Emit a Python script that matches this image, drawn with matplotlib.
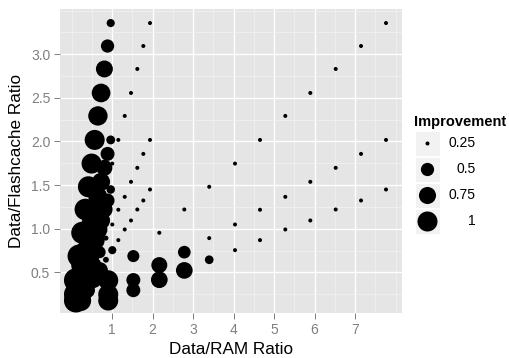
import numpy as np
import matplotlib.pyplot as plt
from matplotlib.patches import Rectangle

plt.rcParams['font.family'] = ['Liberation Sans', 'DejaVu Sans']

# Data/RAM ratio for each RAM size (smallest data set first)
ram_small_x = [0.907, 1.527, 2.168, 2.785, 3.400, 4.037, 4.654, 5.279, 5.896, 6.523, 7.148, 7.765]
ram_mid_x = [0.225, 0.382, 0.540, 0.694, 0.850, 1.007, 1.156, 1.314, 1.469, 1.625, 1.773, 1.938]
ram_big_x = [0.110, 0.187, 0.265, 0.342, 0.418, 0.495, 0.572, 0.652, 0.730, 0.812, 0.890, 0.968]

# Data/Flashcache ratio for each flash size
flash_small_y = [0.410, 0.687, 0.954, 1.221, 1.481, 1.747, 2.018, 2.293, 2.556, 2.831, 3.094, 3.357]
flash_mid_y = [0.248, 0.413, 0.584, 0.732, 0.893, 1.049, 1.218, 1.366, 1.538, 1.698, 1.858, 2.018]
flash_big_y = [0.178, 0.296, 0.416, 0.523, 0.645, 0.755, 0.870, 0.992, 1.095, 1.221, 1.324, 1.450]

# improvement, one list per (ram, flash) pair
imp_rs_fs = [1.00, 0.44, 0.25, 0.25, 0.25, 0.25, 0.25, 0.25, 0.25, 0.25, 0.25, 0.25]
imp_rs_fm = [1.00, 0.54, 0.67, 0.47, 0.25, 0.25, 0.25, 0.25, 0.25, 0.25, 0.25, 0.25]
imp_rs_fb = [1.00, 0.54, 0.72, 0.72, 0.315, 0.25, 0.25, 0.25, 0.25, 0.25, 0.25, 0.25]
imp_rm_fs = [1.10, 0.44, 0.252, 0.25, 0.25, 0.25, 0.25, 0.25, 0.25, 0.25, 0.25, 0.25]
imp_rm_fm = [1.10, 0.67, 0.67, 0.44, 0.253, 0.25, 0.25, 0.25, 0.25, 0.25, 0.25, 0.25]
imp_rm_fb = [1.10, 0.67, 0.72, 0.72, 0.26, 0.30, 0.25, 0.25, 0.25, 0.25, 0.25, 0.25]
imp_rb_fs = [1.42, 1.31, 1.20, 1.15, 1.10, 1.00, 1.00, 0.94, 0.88, 0.74, 0.50, 0.30]
imp_rb_fm = [1.42, 1.31, 1.20, 1.15, 1.10, 1.05, 1.00, 0.91, 0.82, 0.67, 0.54, 0.32]
imp_rb_fb = [1.42, 1.31, 1.20, 1.15, 1.10, 1.05, 1.00, 0.91, 0.82, 0.70, 0.54, 0.31]

legend_breaks = [0.25, 0.5, 0.75, 1]
legend_labels = ['0.25', '0.5', '0.75', '1']

groups = [
    (ram_small_x, flash_small_y, imp_rs_fs), (ram_small_x, flash_mid_y, imp_rs_fm), (ram_small_x, flash_big_y, imp_rs_fb),
    (ram_mid_x, flash_small_y, imp_rm_fs), (ram_mid_x, flash_mid_y, imp_rm_fm), (ram_mid_x, flash_big_y, imp_rm_fb),
    (ram_big_x, flash_small_y, imp_rb_fs), (ram_big_x, flash_big_y, imp_rb_fb), (ram_big_x, flash_mid_y, imp_rb_fm),
]

all_imp = np.concatenate([g[2] for g in groups])
vmin, vmax = all_imp.min(), all_imp.max()

def marker_area(v):
    # ggplot-like area scale: diameter in px, then to points^2 at 100 dpi
    t = np.clip((np.asarray(v, float) - vmin) / (vmax - vmin), 0, None)
    d = 4.0 * (1 + 5 * np.sqrt(t))
    return (d * 0.72) ** 2

W, H = 510, 358
fig = plt.figure(figsize=(W / 100, H / 100), dpi=100)
ax = fig.add_axes([60 / W, 1 - 313 / H, 342 / W, 304 / H])
ax.set_facecolor('#E5E5E5')
for s in ax.spines.values():
    s.set_visible(False)

for xs, ys, imp in groups:
    ax.scatter(xs, ys, s=marker_area(imp), c='black', linewidths=0, zorder=3)

ax.set_xlim(-0.284, 8.16)
ax.set_ylim(0.035, 3.518)
ax.set_xticks([1, 2, 3, 4, 5, 6, 7])
ax.set_xticks([0, 0.5, 1.5, 2.5, 3.5, 4.5, 5.5, 6.5, 7.5, 8], minor=True)
ax.set_yticks([0.5, 1.0, 1.5, 2.0, 2.5, 3.0])
ax.set_yticklabels(['0.5', '1.0', '1.5', '2.0', '2.5', '3.0'])
ax.set_yticks([0.25, 0.75, 1.25, 1.75, 2.25, 2.75, 3.25, 3.5], minor=True)
ax.set_axisbelow(True)
ax.grid(which='minor', color='#F2F2F2', lw=0.5)
ax.grid(which='major', color='white', lw=0.95)
ax.tick_params(which='major', length=4.25, width=0.7, color='#7F7F7F',
               labelcolor='#7F7F7F', labelsize=10, pad=2.8)
ax.tick_params(which='minor', length=0)

fig.text(231 / W, 1 - 349 / H, 'Data/RAM Ratio', ha='center', va='center', fontsize=12.3)
fig.text(17 / W, 1 - 161 / H, 'Data/Flashcache Ratio', ha='center', va='center',
         rotation=90, fontsize=12.3)

# legend
lax = fig.add_axes([0, 0, 1, 1])
lax.set_xlim(0, W)
lax.set_ylim(H, 0)
lax.axis('off')
fig.text(414 / W, 1 - 122 / H, 'Improvement', ha='left', va='center',
         fontsize=10.5, fontweight='bold')
key_y = [143, 169, 195, 221]
for ky, b, lab in zip(key_y, legend_breaks, legend_labels):
    lax.add_patch(Rectangle((415, ky - 12.5), 25, 25, facecolor='#F2F2F2',
                            edgecolor='white', lw=0.7))
    lax.scatter([427.5], [ky], s=marker_area(b), c='black', linewidths=0)
    fig.text(476 / W, 1 - ky / H, lab, ha='right', va='center', fontsize=10)

fig.savefig('out.png', dpi=100)
